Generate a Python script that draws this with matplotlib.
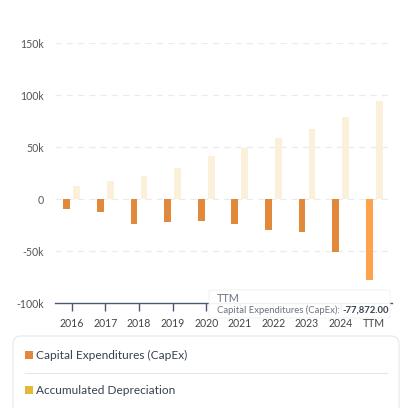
import matplotlib
matplotlib.use("Agg")
import matplotlib.pyplot as plt
from matplotlib.patches import FancyBboxPatch, Rectangle
from matplotlib.text import Annotation
import numpy as np

plt.rcParams['font.family'] = ['Lato', 'DejaVu Sans']

categories = ["2016", "2017", "2018", "2019", "2020", "2021", "2022", "2023", "2024", "TTM"]
capex = [-9300, -12200, -24400, -22400, -21400, -23700, -30100, -31700, -51000, -77872]
depreciation = [12800, 16900, 22400, 30100, 41600, 49000, 58300, 67000, 79100, 93900]
yticks = [-100000, -50000, 0, 50000, 100000, 150000]
ytick_labels = ["-100k", "-50k", "0", "50k", "100k", "150k"]

W, H = 413, 408
fig = plt.figure(figsize=(W / 100, H / 100), dpi=100)
fig.patch.set_facecolor("white")

ax = fig.add_axes([55 / W, (H - 303) / H, (392 - 55) / W, (303 - 43) / H])
x = np.arange(len(categories))
capex_colors = ["#E2883A"] * (len(categories) - 1) + ["#FFA24E"]
ax.bar(x - 0.15, capex, width=0.2, color=capex_colors, zorder=3)
ax.bar(x + 0.15, depreciation, width=0.2, color="#FBF0D9", zorder=3)

ax.set_xlim(-0.5, 9.53)
ax.set_ylim(-100000, 150000)
ax.set_yticks(yticks)
ax.set_yticklabels(ytick_labels)
ax.set_xticks(x)
ax.set_xticklabels(categories)
for yv in yticks[1:]:
    ax.axhline(yv, color="#EBEBEB", lw=0.9, ls=(0, (5, 4)), zorder=1)

for s in ["top", "right", "left"]:
    ax.spines[s].set_visible(False)
ax.spines["bottom"].set_color("#4A5870")
ax.spines["bottom"].set_linewidth(1.0)
ax.tick_params(axis="y", length=0, pad=8, labelsize=7.6, labelcolor="#555555")
ax.tick_params(axis="x", length=6, width=1.0, color="#4A5870", pad=5,
               labelsize=7.6, labelcolor="#444444")

# Tooltip
tip = FancyBboxPatch((209 / W, (H - 318) / H), (390 - 209) / W, 28 / H,
                     boxstyle="round,pad=0,rounding_size=0.004",
                     transform=fig.transFigure, facecolor="white", alpha=0.93,
                     edgecolor="#EEEEEE", lw=0.6, zorder=10)
fig.patches.append(tip)
fig.text(217 / W, (H - 298) / H, "TTM", fontsize=7.8, color="#6B7280",
         va="center", ha="left", zorder=11)
t1 = fig.text(217 / W, (H - 310) / H, "Capital Expenditures (CapEx): ", fontsize=6.8,
              color="#6B7280", va="center", ha="left", zorder=11)
ann = Annotation("-77,872.00", xy=(1, 0.5), xycoords=t1, va="center", ha="left",
                 fontsize=6.8, fontweight="bold", color="#374151", annotation_clip=False)
ann.set_zorder(11)
fig.add_artist(ann)

# Legend box
lb = FancyBboxPatch((13 / W, -10 / H), (399 - 13) / W, (H - 336 + 10) / H,
                    boxstyle="round,pad=0,rounding_size=0.02",
                    transform=fig.transFigure, facecolor="white",
                    edgecolor="#E5E7EB", lw=0.8)
fig.patches.append(lb)
fig.patches.append(Rectangle((25 / W, (H - 359) / H), 8 / W, 8 / H, transform=fig.transFigure,
                             facecolor="#E2883A", edgecolor="none"))
fig.text(36 / W, (H - 355) / H, "Capital Expenditures (CapEx)", fontsize=8.6,
         color="#374151", va="center", ha="left")
fig.lines.append(plt.Line2D([25 / W, 387 / W], [(H - 373) / H] * 2, transform=fig.transFigure,
                            color="#E5E7EB", lw=0.8))
fig.patches.append(Rectangle((25 / W, (H - 394) / H), 8 / W, 8 / H, transform=fig.transFigure,
                             facecolor="#E6B83A", edgecolor="none"))
fig.text(36 / W, (H - 390) / H, "Accumulated Depreciation", fontsize=8.6,
         color="#374151", va="center", ha="left")

fig.savefig("out.png", dpi=100, facecolor="white")
